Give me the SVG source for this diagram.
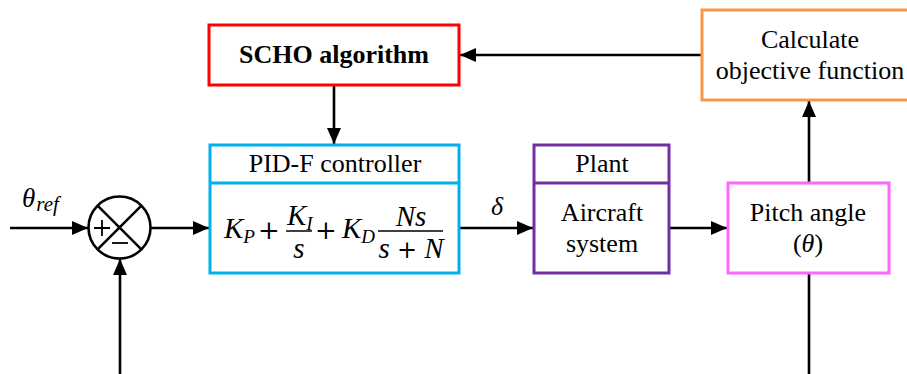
<svg xmlns="http://www.w3.org/2000/svg" width="907" height="374" viewBox="0 0 907 374">
<defs>
<marker id="arr" markerUnits="userSpaceOnUse" markerWidth="17" markerHeight="15" refX="16" refY="7" orient="auto">
<path d="M0,0 L16,7 L0,14 z" fill="#000"/>
</marker>
<style>
.t{font-family:"Liberation Serif","Times New Roman",serif;font-size:26px;fill:#000;text-anchor:middle}
.m{font-family:"Liberation Serif","Times New Roman",serif;font-style:italic;font-size:29px;fill:#000}
.p{font-family:"DejaVu Serif",serif;font-size:26px;fill:#000;text-anchor:middle}
.sub{font-size:19px}
.box{fill:#fff;stroke-width:3}
.c{stroke:#000;stroke-width:2.6;fill:none}
</style>
</defs>
<rect width="907" height="374" fill="#fff"/>
<g id="connectors">
<path class="c" d="M10,228 L88,228" marker-end="url(#arr)"/>
<path class="c" d="M151,228 L209,228" marker-end="url(#arr)"/>
<path class="c" d="M120,374 L120,259" marker-end="url(#arr)"/>
<path class="c" d="M460,228 L533,228" marker-end="url(#arr)"/>
<path class="c" d="M670,228 L727,228" marker-end="url(#arr)"/>
<path class="c" d="M809,182 L809,101" marker-end="url(#arr)"/>
<path class="c" d="M701,55 L460,55" marker-end="url(#arr)"/>
<path class="c" d="M334,86 L334,144" marker-end="url(#arr)"/>
<path class="c" d="M809,274 L809,374"/>
</g>
<g id="theta_ref">
<text class="m" x="22" y="207" style="font-size:27px">θ<tspan style="font-size:21px" dx="1" dy="4">ref</tspan></text>
</g>
<g id="delta_label">
<text class="t" x="497" y="215" style="font-style:italic">δ</text>
</g>
<g id="sum">
<circle cx="119.5" cy="227.5" r="31" fill="#fff" stroke="#000" stroke-width="2.6"/>
<path d="M97.6,205.6 L141.4,249.4 M141.4,205.6 L97.6,249.4" stroke="#000" stroke-width="2.6"/>
<path d="M94,228 L110,228 M102,220 L102,236" stroke="#000" stroke-width="1.8"/>
<path d="M112,243 L128,243" stroke="#000" stroke-width="1.8"/>
</g>
<g id="scho">
<rect class="box" x="209" y="25" width="250" height="60" stroke="#FF0000"/>
<text class="t" x="334" y="63" style="font-weight:bold">SCHO algorithm</text>
</g>
<g id="calc">
<rect class="box" x="702" y="10" width="220" height="90" stroke="#F79646"/>
<text class="t" x="810" y="48">Calculate</text>
<text class="t" x="810" y="79">objective function</text>
</g>
<g id="pid">
<rect class="box" x="210" y="145" width="249" height="128" stroke="#00B0F0"/>
<line x1="210" y1="183" x2="459" y2="183" stroke="#00B0F0" stroke-width="3"/>
<text class="t" x="335" y="172">PID-F controller</text>
<text class="m" x="224" y="238">K<tspan class="sub" dy="5">P</tspan></text>
<text class="p" x="269" y="239">+</text>
<text class="m" x="287" y="225">K<tspan class="sub" dy="5">I</tspan></text>
<line x1="286" y1="231" x2="312" y2="231" stroke="#000" stroke-width="1.5"/>
<text class="m" x="299" y="258" text-anchor="middle">s</text>
<text class="p" x="326" y="239">+</text>
<text class="m" x="342" y="238">K<tspan class="sub" dy="5">D</tspan></text>
<text class="m" x="411" y="226" text-anchor="middle">Ns</text>
<line x1="378" y1="231" x2="443" y2="231" stroke="#000" stroke-width="1.5"/>
<text class="m" x="411" y="258" text-anchor="middle">s <tspan style="font-style:normal;font-family:'DejaVu Serif',serif;font-size:24px">+</tspan> N</text>
</g>
<g id="plant">
<rect class="box" x="534" y="145" width="135" height="128" stroke="#7030A0"/>
<line x1="534" y1="183" x2="669" y2="183" stroke="#7030A0" stroke-width="3"/>
<text class="t" x="602" y="172">Plant</text>
<text class="t" x="602" y="221">Aircraft</text>
<text class="t" x="602" y="252">system</text>
</g>
<g id="pitch">
<rect class="box" x="728" y="183" width="161" height="90" stroke="#FF66FF"/>
<text class="t" x="808" y="221">Pitch angle</text>
<text class="t" x="808" y="252">(<tspan style="font-style:italic">θ</tspan>)</text>
</g>
</svg>
